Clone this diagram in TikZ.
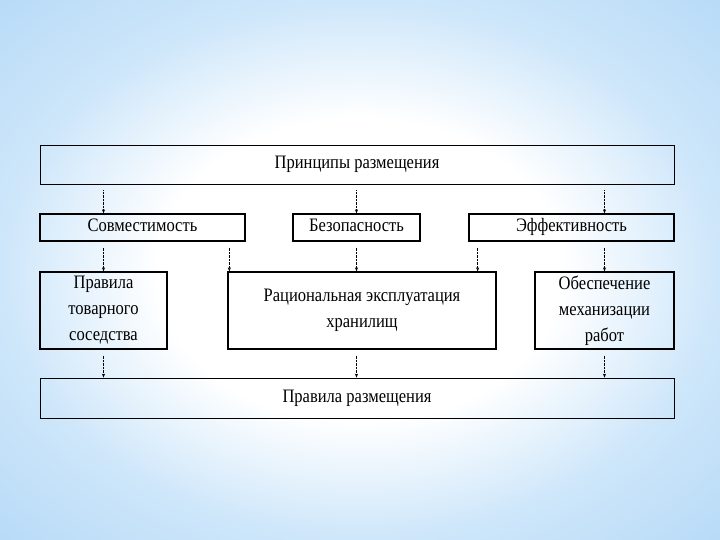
\documentclass[tikz,border=0pt]{standalone}
\usepackage{fontspec}
\setmainfont{Liberation Serif}[FakeStretch=0.87]
\usetikzlibrary{arrows.meta,positioning,calc}
\definecolor{skyedge}{RGB}{205,230,250}
\definecolor{skycorner}{RGB}{183,218,247}
\pgfdeclareradialshading{slide}{\pgfpoint{0bp}{0bp}}{color(0bp)=(white); color(14bp)=(white); color(25bp)=(skyedge); color(36bp)=(skycorner); color(50bp)=(skycorner)}
\tikzstyle{box} = [draw=black, line width=1.3pt, align=center, inner sep=2pt, font=\fontsize{19}{26}\selectfont]
\tikzstyle{oneline} = [text height=13pt, text depth=4pt]
\tikzstyle{link} = [densely dotted, thin, -{Stealth[length=4pt,width=3pt]}, shorten <=6pt]

\begin{document}
\begin{tikzpicture}[x=1pt, y=-1pt]
    \shade[shading=slide] (0,0) rectangle (720,540);
    \useasboundingbox (0,0) rectangle (720,540);
    % header and footer
    \node[box, line width=0.8pt, minimum width=634pt, minimum height=39pt] (top) at (357,164.5) {Принципы размещения};
    \node[box, line width=0.8pt, minimum width=634pt, minimum height=40pt] (rules) at (357,398) {Правила размещения};
    % second row
    \node[box, oneline, minimum width=205pt, minimum height=27pt] (compat) at (142.5,227.5) {Совместимость};
    \node[box, oneline, minimum width=127pt, minimum height=27pt] (safety) at (356.5,227.5) {Безопасность};
    \node[box, oneline, minimum width=205pt, minimum height=27pt] (effect) at (571.5,227.5) {Эффективность};
    % third row
    \node[box, minimum width=127pt, minimum height=77pt] (neighb) at (103.5,310.5) {Правила\\товарного\\соседства};
    \node[box, minimum width=268pt, minimum height=77pt] (usage) at (362,310.5) {Рациональная эксплуатация\\хранилищ};
    \node[box, minimum width=139pt, minimum height=77pt] (mech) at (604.5,310.5) {Обеспечение\\механизации\\работ};
    % arrows
    \draw[link] (top.south -| neighb.north) -- (compat.north -| neighb.north);
    \draw[link] (top.south -| safety.north) -- (safety.north);
    \draw[link] (top.south -| mech.north) -- (effect.north -| mech.north);
    \draw[link] (compat.south -| neighb.north) -- (neighb.north);
    \draw[link] ($(compat.south -| usage.north west)+(2,0)$) -- ($(usage.north west)+(2,0)$);
    \draw[link] (safety.south) -- (usage.north -| safety.south);
    \draw[link] ($(effect.south -| usage.north east)+(-19,0)$) -- ($(usage.north east)+(-19,0)$);
    \draw[link] (effect.south -| mech.north) -- (mech.north);
    \draw[link] (neighb.south) -- (rules.north -| neighb.south);
    \draw[link] (usage.south -| safety.south) -- (rules.north -| safety.south);
    \draw[link] (mech.south) -- (rules.north -| mech.south);
\end{tikzpicture}
\end{document}
